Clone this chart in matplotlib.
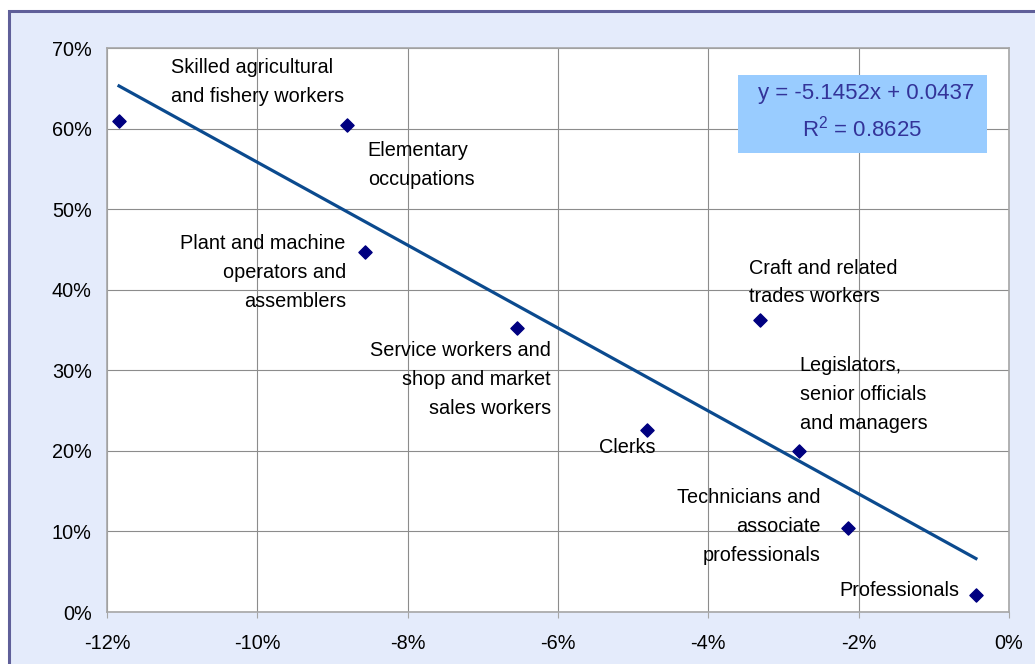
import numpy as np
import matplotlib.pyplot as plt
from matplotlib.patches import Rectangle
from matplotlib.ticker import FuncFormatter

plt.rcParams['font.family'] = ['Liberation Sans', 'DejaVu Sans']

# occupation groups: change in share (x) vs. some share (y)
groups = ['Skilled agricultural\nand fishery workers',
          'Elementary\noccupations',
          'Plant and machine\noperators and\nassemblers',
          'Service workers and\nshop and market\nsales workers',
          'Clerks',
          'Craft and related\ntrades workers',
          'Legislators,\nsenior officials\nand managers',
          'Technicians and\nassociate\nprofessionals',
          'Professionals']
x_vals = [-0.1184, -0.0881, -0.0857, -0.0655, -0.0481, -0.0331, -0.0280, -0.0214, -0.0044]
y_vals = [0.609, 0.604, 0.447, 0.352, 0.226, 0.363, 0.200, 0.104, 0.021]

# trendline as reported
slope, intercept = -5.1452, 0.0437
r2 = 0.8625

# label placement (pixel offsets from the point, alignment)
lab_off = [(52, 39), (21, -40), (-19, -21), (34, -51), (8, -18),
           (-11, 37), (1, 56), (-28, 2), (-17, 5)]
lab_ha = ['left', 'left', 'right', 'right', 'right', 'left', 'left', 'right', 'right']

fig = plt.figure(figsize=(10.35, 6.64), dpi=100, facecolor='white')
# chart area frame
fig.patches.append(Rectangle((8.5/1035, -0.1), 1.2, 1.1 - 11/664, transform=fig.transFigure,
                             facecolor='#E4EBFB', edgecolor='#5F5F99', lw=2.2, zorder=-10))

ax = fig.add_axes([107/1035, 52/664, 902/1035, 564/664])
ax.set_facecolor('white')

ax.set_xlim(-0.12, 0.0)
ax.set_ylim(0.0, 0.70)
ax.set_xticks(np.arange(-0.12, 0.001, 0.02))
ax.set_yticks(np.arange(0, 0.701, 0.1))
ax.xaxis.set_major_formatter(FuncFormatter(lambda v, p: '%d%%' % round(v*100)))
ax.yaxis.set_major_formatter(FuncFormatter(lambda v, p: '%d%%' % round(v*100)))
ax.grid(True, color='#8C8C8C', lw=0.8)
ax.set_axisbelow(True)
for s in ax.spines.values():
    s.set_color('#A6A6A6')
    s.set_linewidth(1.2)
ax.tick_params(axis='x', length=4, color='#A6A6A6', pad=11.5, labelsize=14.3)
ax.tick_params(axis='y', length=0, pad=11, labelsize=14.3)

# trendline
xt = np.array([min(x_vals), max(x_vals)])
ax.plot(xt, slope*xt + intercept, color='#0B4A8E', lw=2.3, zorder=3)

ax.scatter(x_vals, y_vals, marker='D', s=45, color='#000080', zorder=4)

for i in range(len(groups)):
    ax.annotate(groups[i], (x_vals[i], y_vals[i]), xytext=lab_off[i], textcoords='offset pixels',
                ha=lab_ha[i], va='center', fontsize=14.3, linespacing=1.66, color='black')

# equation box
ax.add_patch(Rectangle((0.6996, 0.8138), 0.276, 0.138, transform=ax.transAxes,
                       facecolor='#99CCFF', edgecolor='none', zorder=5))
ax.text(0.8415, 0.920, 'y = %.4fx + %.4f' % (slope, intercept), transform=ax.transAxes,
        ha='center', va='center', fontsize=16, color='#333399', zorder=6)
ax.text(0.8376, 0.858, '$\\mathregular{R^2}$ = %.4f' % r2, transform=ax.transAxes,
        ha='center', va='center', fontsize=16, color='#333399', zorder=6)

fig.savefig('out.png', dpi=100, facecolor=fig.get_facecolor())
